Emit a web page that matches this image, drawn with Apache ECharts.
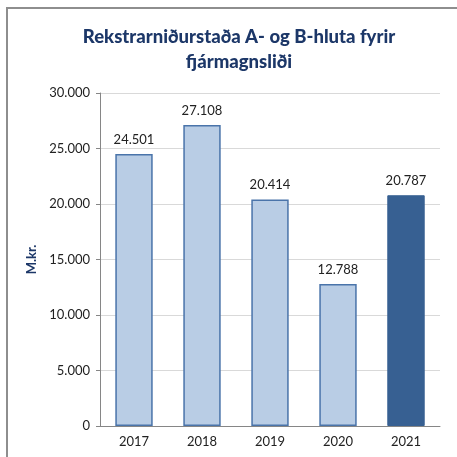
<!DOCTYPE html>
<html>
<head>
<meta charset="utf-8">
<script src="https://cdn.jsdelivr.net/npm/echarts@6/dist/echarts.min.js"></script>
<style>
html,body{margin:0;padding:0;background:#fff;overflow:hidden;}
#main{position:absolute;left:0;top:0;width:457px;height:457px;}
#frame{position:absolute;left:6px;top:7px;width:600px;height:600px;border:2px solid #8e8e8e;box-sizing:border-box;}
</style>
</head>
<body>
<div id="frame"></div>
<div id="main"></div>
<script>
// gögn
var years = ['2017', '2018', '2019', '2020', '2021'];
var values = [24501, 27108, 20414, 12788, 20787];
var highlight = [false, false, false, false, true];

var fmt = function (v) {
	return String(v).replace(/\B(?=(\d{3})+(?!\d))/g, '.');
};

var chart = echarts.init(document.getElementById('main'));
var option = {
	animation: false,
	textStyle: { fontFamily: 'Lato' },
	title: {
		text: 'Rekstrarniðurstaða A- og B-hluta fyrir\nfjármagnsliði',
		left: 234,
		textAlign: 'center',
		top: 20,
		textStyle: {
			fontFamily: 'Lato',
			fontSize: 18.5,
			fontWeight: 900,
			color: '#1c3768',
			lineHeight: 25,
			align: 'center'
		}
	},
	grid: { left: 100, right: 17, top: 93, bottom: 31 },
	xAxis: {
		type: 'category',
		data: years,
		axisLine: { lineStyle: { color: '#868686', width: 1 } },
		axisTick: { length: 4, lineStyle: { color: '#868686' } },
		axisLabel: { color: '#222', fontSize: 13, margin: 9 }
	},
	yAxis: {
		type: 'value',
		min: 0,
		max: 30000,
		interval: 5000,
		name: 'M.kr.',
		nameLocation: 'middle',
		nameGap: 54,
		nameTextStyle: { color: '#1c3768', fontWeight: 'bold', fontSize: 13 },
		axisLine: { show: true, lineStyle: { color: '#868686' } },
		axisTick: { show: true, length: 4, lineStyle: { color: '#868686' } },
		axisLabel: { color: '#222', fontSize: 13, margin: 10, formatter: fmt },
		splitLine: { lineStyle: { color: '#d9d9d9' } }
	},
	series: [{
		type: 'bar',
		barWidth: '55%',
		data: values.map(function (v, i) {
			return {
				value: v,
				itemStyle: highlight[i]
					? { color: '#376092', borderColor: '#376092', borderWidth: 1 }
					: { color: '#b9cde5', borderColor: '#4a74aa', borderWidth: 1.5 }
			};
		}),
		label: {
			show: true,
			position: 'top',
			distance: 8,
			color: '#222',
			fontSize: 13,
			formatter: function (p) { return fmt(p.value); }
		}
	}]
};
chart.setOption(option);
</script>
</body>
</html>
